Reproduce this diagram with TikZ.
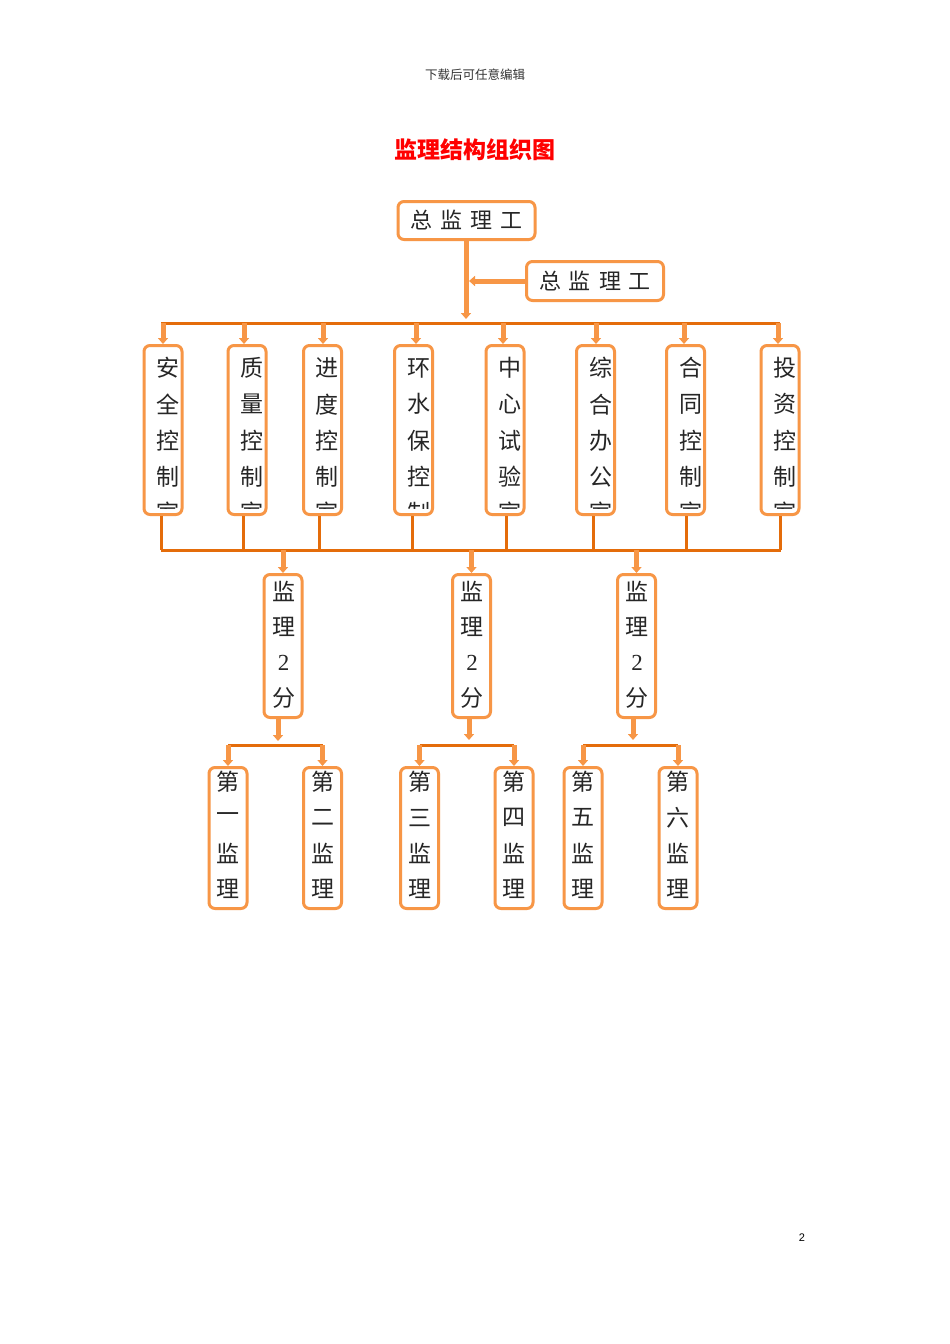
\documentclass[tikz,border=0pt]{standalone}
\usepackage{fontspec}
\setmainfont{Noto Sans CJK SC}
\newfontfamily\numfont{Liberation Serif}
\newfontfamily\pgfont{Liberation Sans}
\usetikzlibrary{arrows.meta}
\definecolor{lorange}{HTML}{F79646}
\definecolor{dorange}{HTML}{E46C0A}
\tikzset{
 box/.style={draw=lorange, line width=3pt, rounded corners=6pt, fill=white, inner sep=0pt},
 vb/.style={box, minimum width=38pt},
 chr/.style={inner sep=0pt, text=black!85, font=\fontsize{23}{23}\selectfont},
 bus/.style={draw=dorange, line width=3pt},
 drop/.style={draw=lorange, line width=5pt, -{Triangle[length=6pt,width=10pt]}},
}
% #1 name, #2 box centre x, #3 top, #4 bottom, #5 first char offset, #6 pitch, #7 text shift, #8 chars
\newcommand\vcol[8]{%
  \node[vb, minimum height={#4-#3-3}] (#1) at (#2,{(#3+#4)/2}) {};
  \begin{scope}
   \clip (#2-17,#3+2) rectangle (#2+17,#4-8);
   \foreach \c [count=\i] in {#8} \node[chr] (#1c\i) at ({#2+#7},{#3+#5+#6*(\i-1)}) {\c};
  \end{scope}}
\begin{document}
\begin{tikzpicture}[x=1pt,y=-1pt]
\fill[white] (0,0) rectangle (950,1344);
\useasboundingbox (0,0) rectangle (950,1344);
% header, title, page number
\node[font=\fontsize{12.5}{12.5}\selectfont, text=black!80] (hdr) at (475,75) {下载后可任意编辑};
\node[font=\bfseries\fontsize{23}{23}\selectfont, text=red] (title) at (475,150) {监理结构组织图};
\node[font=\pgfont\fontsize{11}{11}\selectfont] (pg) at (802,1238) {2};
% top boxes
\node[box, minimum width=137pt, minimum height=38pt, text=black!85, font=\fontsize{22}{22}\selectfont] (t1) at (466.5,220.5) {总\hspace{8pt}监\hspace{8pt}理\hspace{8pt}工};
\node[box, minimum width=137pt, minimum height=39pt, text=black!85, font=\fontsize{22}{22}\selectfont] (t2) at (595,281) {总\hspace{8pt}监\hspace{8pt}理\hspace{8pt}工};
% row of eight
\vcol{b1}{163}{344}{516}{24}{36.2}{4.5}{安,全,控,制,室}
\vcol{b2}{247}{344}{516}{24}{36.2}{4.5}{质,量,控,制,室}
\vcol{b3}{322.5}{344}{516}{24}{36.2}{4.5}{进,度,控,制,室}
\vcol{b4}{413.5}{344}{516}{24}{36.2}{5}{环,水,保,控,制}
\vcol{b5}{505}{344}{516}{24}{36.2}{5}{中,心,试,验,室}
\vcol{b6}{595.5}{344}{516}{24}{36.2}{5}{综,合,办,公,室}
\vcol{b7}{685.5}{344}{516}{24}{36.2}{5}{合,同,控,制,室}
\vcol{b8}{780}{344}{516}{24}{36.2}{5}{投,资,控,制,室}
% middle
\vcol{m1}{283}{573}{719}{18}{35.7}{0.5}{监,理,{\numfont 2},分}
\vcol{m2}{471.5}{573}{719}{18}{35.7}{0.5}{监,理,{\numfont 2},分}
\vcol{m3}{636.5}{573}{719}{18}{35.7}{0.5}{监,理,{\numfont 2},分}
% lower
\vcol{l1}{228}{766}{910}{16}{35.7}{0}{第,一,监,理}
\vcol{l2}{322.5}{766}{910}{16}{35.7}{0}{第,二,监,理}
\vcol{l3}{419.5}{766}{910}{16}{35.7}{0}{第,三,监,理}
\vcol{l4}{514}{766}{910}{16}{35.7}{0}{第,四,监,理}
\vcol{l5}{583}{766}{910}{16}{35.7}{0}{第,五,监,理}
\vcol{l6}{678}{766}{910}{16}{35.7}{0}{第,六,监,理}
% top connectors
\coordinate (j1) at (466,319);
\coordinate (j2) at (469,281);
\draw[drop] (t1.south -| j1) -- (j1);
\draw[drop] (t2.west) -- (j2);
% upper bus
\coordinate (busL) at (161,323);
\coordinate (busR) at (780,323);
\draw[bus] (busL) -- (busR);
\foreach \n/\s in {b1/0,b2/-3,b3/0.5,b4/2.5,b5/-2,b6/0.5,b7/-1.5,b8/-2}
  \draw[drop] ([xshift=\s pt]\n.north |- busL) -- ([xshift=\s pt]\n.north);
% lower bus
\coordinate (bbL) at (161,550);
\coordinate (bbR) at (781,550);
\foreach \n/\s in {b1/-2,b2/-4,b3/-3.5,b4/-1.5,b5/1,b6/-2.5,b7/0.5,b8/0}
  \draw[bus] ([xshift=\s pt]\n.south) -- ([xshift=\s pt]\n.south |- bbL);
\draw[bus] (bbL) -- (bbR);
\foreach \n in {m1,m2,m3} \draw[drop] (\n.north |- bbL) -- (\n.north);
% middle to lower
\coordinate (a1) at (278,741);
\coordinate (a2) at (469,740);
\coordinate (a3) at (633,740);
\draw[drop] (m1.south -| a1) -- (a1);
\draw[drop] (m2.south -| a2) -- (a2);
\draw[drop] (m3.south -| a3) -- (a3);
\coordinate (r) at (0,745);
\draw[bus] (l1.north |- r) -- (l2.north |- r);
\draw[bus] (l3.north |- r) -- (l4.north |- r);
\draw[bus] (l5.north |- r) -- (l6.north |- r);
\foreach \n in {l1,l2,l3,l4,l5,l6} \draw[drop] (\n.north |- r) -- (\n.north);
\end{tikzpicture}
\end{document}
